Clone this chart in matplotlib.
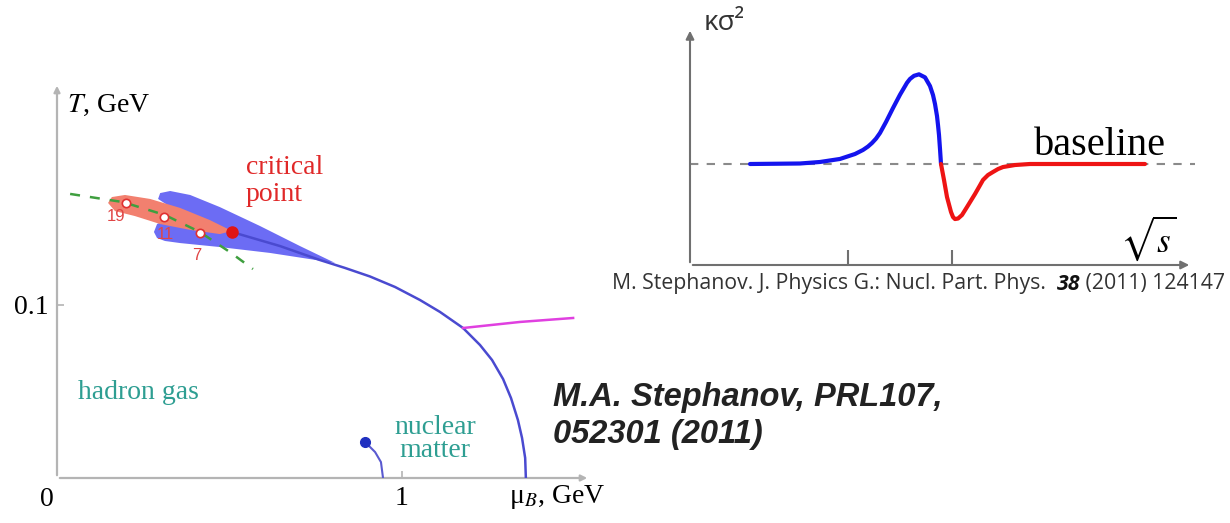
import matplotlib
matplotlib.use("Agg")
from matplotlib import pyplot as plt

plt.rcParams["mathtext.fontset"] = "stix"
SERIF = "Liberation Serif"
SANS = "Open Sans"

# ---- left panel: QCD phase diagram (mu_B, T in GeV) ----
boundary_mu = [0.507, 0.646, 0.762, 0.835, 0.907, 0.980, 1.052, 1.110, 1.177, 1.226,
               1.261, 1.293, 1.316, 1.336, 1.348, 1.357, 1.359]
boundary_T = [0.1422, 0.1341, 0.1260, 0.1214, 0.1165, 0.1104, 0.1029, 0.0960, 0.0867, 0.0769,
              0.0682, 0.0572, 0.0462, 0.0335, 0.0231, 0.0116, 0.0]

magenta_mu = [1.177, 1.342, 1.496]
magenta_T = [0.0867, 0.0902, 0.0925]

nuclear_mu = [0.893, 0.922, 0.939, 0.945]
nuclear_T = [0.0208, 0.0150, 0.0092, 0.0]

freeze_mu = [0.038, 0.191, 0.313, 0.414, 0.501, 0.568]
freeze_T = [0.1642, 0.1595, 0.1520, 0.1422, 0.1306, 0.1208]

blue_mu = [0.806, 0.704, 0.588, 0.472, 0.386, 0.328, 0.299, 0.293, 0.342, 0.313,
           0.290, 0.281, 0.290, 0.313, 0.357, 0.472, 0.617]
blue_T = [0.1243, 0.1341, 0.1457, 0.1566, 0.1636, 0.1659, 0.1647, 0.1613, 0.1549, 0.1491,
          0.1468, 0.1422, 0.1387, 0.1370, 0.1358, 0.1335, 0.1301]

red_mu = [0.148, 0.159, 0.197, 0.270, 0.357, 0.443, 0.507, 0.472, 0.386, 0.299, 0.226, 0.168]
red_T = [0.1590, 0.1624, 0.1636, 0.1613, 0.1561, 0.1491, 0.1428, 0.1410, 0.1434, 0.1468,
         0.1514, 0.1543]

energy_labels = ["19", "11", "7"]
energy_mu = [0.200, 0.310, 0.414]
energy_T = [0.1590, 0.1509, 0.1416]
label_mu = [0.171, 0.313, 0.406]
label_T = [0.1509, 0.1405, 0.1289]

cp_mu, cp_T = 0.507, 0.1422
nm_mu, nm_T = 0.893, 0.0208

# ---- right panel: kurtosis sketch ----
blue_x = [6.0, 11.0, 13.0, 15.0, 16.5, 17.3, 17.8, 18.2, 18.6, 19.0, 19.6, 20.3, 21.0,
          21.7, 22.0, 22.4, 22.9, 23.5, 24.0, 24.3, 24.5, 24.7, 24.8, 24.9, 25.0, 25.1]
blue_y = [1.0, 1.005, 1.020, 1.050, 1.099, 1.139, 1.173, 1.208, 1.251, 1.307, 1.416, 1.554,
          1.686, 1.804, 1.842, 1.873, 1.888, 1.858, 1.772, 1.683, 1.594, 1.475, 1.386,
          1.287, 1.149, 1.0]
red_x = [25.1, 25.4, 25.7, 26.1, 26.3, 26.5, 26.8, 27.2, 27.7, 28.5, 28.9, 29.3, 29.8,
         30.3, 30.8, 31.3, 31.9, 32.5, 34.0, 45.5]
red_y = [1.0, 0.842, 0.673, 0.525, 0.475, 0.455, 0.460, 0.495, 0.574, 0.703, 0.772, 0.842,
         0.891, 0.921, 0.950, 0.970, 0.980, 0.990, 1.0, 1.0]
sketch_ticks = [15.8, 26.2]

W, H = 1230, 523
fig = plt.figure(figsize=(12.3, 5.23), dpi=100)

axL = fig.add_axes([57 / W, (H - 478) / H, (600 - 57) / W, (478 - 80) / H])
axL.set_xlim(0, 543 / 345)
axL.set_ylim(0, 398 / 1730)
for s in axL.spines.values():
    s.set_visible(False)
axL.patch.set_alpha(0)

ax_gray = "#b4b4b4"
axL.annotate("", xy=(533 / 345, 0), xytext=(0, 0), annotation_clip=False,
             arrowprops=dict(arrowstyle="-|>", color=ax_gray, lw=1.6, mutation_scale=9))
axL.annotate("", xy=(0, 395 / 1730), xytext=(0, 0), annotation_clip=False,
             arrowprops=dict(arrowstyle="-|>", color=ax_gray, lw=1.6, mutation_scale=9))
axL.set_xticks([1])
axL.set_xticklabels(["1"], fontfamily=SERIF, fontsize=20)
axL.set_yticks([0.1])
axL.set_yticklabels(["0.1"], fontfamily=SERIF, fontsize=20)
axL.tick_params(direction="in", length=5, width=1.2, color=ax_gray, pad=6)

axL.fill(blue_mu, blue_T, color="#6c6cf4", lw=0, zorder=1)
axL.fill(red_mu, red_T, color="#f2806f", lw=0, zorder=2)
axL.plot(freeze_mu, freeze_T, color="#3f9f3f", lw=1.8, ls=(0, (4, 4)), zorder=3)
axL.plot(boundary_mu, boundary_T, color="#4a4ad0", lw=1.8, solid_joinstyle="round", zorder=4)
axL.plot(magenta_mu, magenta_T, color="#e040e0", lw=1.8, zorder=4)
axL.plot(nuclear_mu, nuclear_T, color="#5a5ad0", lw=1.5, zorder=4)
axL.plot([nm_mu], [nm_T], "o", color="#2030c0", ms=7, zorder=5)
axL.plot(energy_mu, energy_T, "o", mfc="white", mec="#e03030", mew=1.2, ms=6, zorder=6)
axL.plot([cp_mu], [cp_T], "o", color="#e01515", ms=8, zorder=6)
for lab, x, y in zip(energy_labels, label_mu, label_T):
    axL.text(x, y, lab, color="#e04545", fontsize=12, ha="center", va="center",
             fontfamily="Liberation Sans", zorder=7)

axL.text(0.029, 0.2156, "$T$, GeV", fontsize=20, fontfamily=SERIF, ha="left", va="center")
axL.text(0.548, 0.1715, "critical\npoint", color="#e02828", fontsize=20,
         fontfamily=SERIF, ha="left", va="center", linespacing=1.1)
axL.text(0.061, 0.0497, "hadron gas", color="#2e9e92", fontsize=20,
         fontfamily=SERIF, ha="left", va="center")
axL.text(1.096, 0.0225, "nuclear\nmatter", color="#2e9e92", fontsize=20,
         fontfamily=SERIF, ha="center", va="center", linespacing=0.85)
fig.text(47 / W, 1 - 500 / H, "0", fontsize=20, fontfamily=SERIF, ha="center", va="center")
fig.text(557 / W, 1 - 497 / H, "μ$_B$, GeV", fontsize=20, fontfamily=SERIF,
         ha="center", va="center")

fig.text(553 / W, 1 - 416 / H, "M.A. Stephanov, PRL107,\n052301 (2011)", fontsize=23.5,
         fontfamily="Liberation Sans", fontweight="bold", fontstyle="italic",
         color="#222222", ha="left", va="center", linespacing=1.25)

# ---- right panel ----
axR = fig.add_axes([690 / W, (H - 265) / H, (1200 - 690) / W, (265 - 20) / H])
axR.set_xlim(0, 51.0)
axR.set_ylim(0, 245 / 101)
for s in axR.spines.values():
    s.set_visible(False)
axR.patch.set_alpha(0)
r_gray = "#707070"
axR.annotate("", xy=(50.2, 0), xytext=(0, 0), annotation_clip=False,
             arrowprops=dict(arrowstyle="-|>", color=r_gray, lw=1.5, mutation_scale=12))
axR.annotate("", xy=(0, 2.347), xytext=(0, 0), annotation_clip=False,
             arrowprops=dict(arrowstyle="-|>", color=r_gray, lw=1.5, mutation_scale=12))
axR.set_xticks(sketch_ticks)
axR.set_xticklabels([])
axR.set_yticks([])
axR.tick_params(axis="x", direction="in", length=11, width=1.5, color=r_gray)

axR.plot([0, 50.5], [1.0, 1.0], color="#8a8a8a", lw=1.5, ls=(0, (4, 4)), zorder=1)
axR.plot(blue_x, blue_y, color="#1414ee", lw=3, solid_capstyle="round",
         solid_joinstyle="round", zorder=3)
axR.plot(red_x, red_y, color="#ee1414", lw=3, solid_capstyle="round",
         solid_joinstyle="round", zorder=3)

axR.text(40.95, 1.089, "baseline", fontsize=29, fontfamily=SERIF, ha="center", va="baseline")
axR.text(45.8, 0.267, r"$\sqrt{s}$", fontsize=25, ha="center", va="center")
fig.text(704 / W, 1 - 23 / H, "κσ²", fontsize=20, fontfamily=SANS, ha="left", va="center",
         color="#333333")

t1 = fig.text(612 / W, 1 - 284 / H, "M. Stephanov. J. Physics G.: Nucl. Part. Phys.  ",
              fontsize=15.3, fontfamily=SANS, ha="left", va="center", color="#333333")
t2 = axR.annotate("38", xy=(1, 0), xycoords=t1, va="bottom", ha="left", fontsize=15.3,
                  fontfamily=SANS, fontweight="bold", fontstyle="italic", color="#111111",
                  annotation_clip=False)
axR.annotate(" (2011) 124147", xy=(1, 0), xycoords=t2, va="bottom", ha="left", fontsize=15.3,
             fontfamily=SANS, color="#333333", annotation_clip=False)

fig.savefig("out.png", dpi=100)
